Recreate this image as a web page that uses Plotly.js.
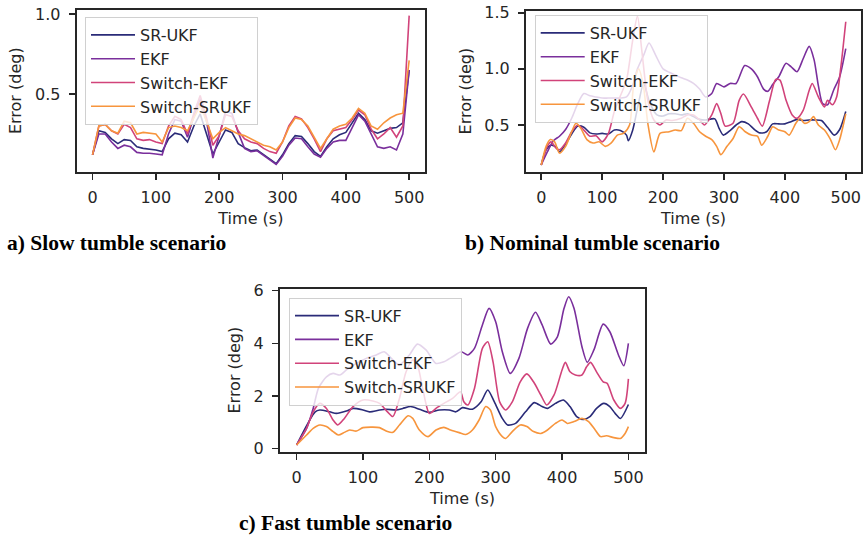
<!DOCTYPE html>
<html><head><meta charset="utf-8">
<script src="https://cdn.plot.ly/plotly-3.0.1.min.js"></script>
<style>html,body{margin:0;padding:0;background:#fff;} #chart{width:864px;height:537px;}</style>
</head><body><div id="chart"></div>
<script>
const seriesNames = ['SR-UKF', 'EKF', 'Switch-EKF', 'Switch-SRUKF'];
const seriesColors = ['#2a2b78', '#7a2f9c', '#d1437a', '#f7953d'];
const captions = ['a) Slow tumble scenario', 'b) Nominal tumble scenario', 'c) Fast tumble scenario'];
const xTitle = 'Time (s)';
const yTitle = 'Error (deg)';

// ---- a) Slow tumble ----
const tA = [0,10,20,30,40,50,60,70,80,90,100,110,120,130,140,150,160,170,180,190,200,210,220,230,240,250,260,270,280,290,300,310,320,330,340,350,360,370,380,390,400,410,420,430,440,450,460,470,480,490,500];
const aSRUKF = [0.12,0.27,0.26,0.22,0.19,0.215,0.21,0.17,0.16,0.155,0.15,0.14,0.22,0.255,0.245,0.2,0.3,0.375,0.25,0.125,0.2,0.275,0.26,0.19,0.165,0.145,0.15,0.12,0.09,0.065,0.12,0.19,0.24,0.235,0.19,0.14,0.11,0.17,0.22,0.245,0.26,0.32,0.38,0.34,0.27,0.255,0.27,0.285,0.29,0.32,0.65];
const aEKF = [0.12,0.25,0.25,0.2,0.16,0.18,0.17,0.135,0.13,0.13,0.125,0.12,0.25,0.34,0.33,0.23,0.36,0.47,0.33,0.1,0.24,0.39,0.38,0.26,0.16,0.14,0.145,0.115,0.085,0.06,0.11,0.18,0.225,0.22,0.17,0.125,0.105,0.16,0.2,0.21,0.21,0.29,0.37,0.33,0.25,0.17,0.16,0.17,0.15,0.25,0.65];
const aSwitchEKF = [0.12,0.3,0.31,0.27,0.25,0.31,0.29,0.22,0.21,0.215,0.2,0.19,0.3,0.36,0.34,0.25,0.38,0.49,0.35,0.18,0.24,0.37,0.36,0.27,0.22,0.2,0.19,0.16,0.14,0.13,0.2,0.3,0.36,0.345,0.29,0.22,0.14,0.22,0.27,0.28,0.29,0.34,0.4,0.37,0.28,0.22,0.25,0.29,0.23,0.3,0.99];
const aSwitchSRUKF = [0.12,0.3,0.31,0.27,0.255,0.33,0.32,0.25,0.26,0.255,0.25,0.2,0.29,0.3,0.29,0.27,0.35,0.43,0.33,0.22,0.26,0.29,0.27,0.25,0.24,0.22,0.2,0.18,0.17,0.15,0.2,0.29,0.35,0.34,0.3,0.23,0.16,0.22,0.28,0.3,0.31,0.35,0.41,0.38,0.3,0.28,0.32,0.35,0.37,0.38,0.71];

// ---- b) Nominal tumble ----
const tB_SRUKF = [0,8,16,25,30,40,50,60,70,80,90,100,110,120,130,140,143,150,160,168,178,190,200,210,220,230,240,250,260,270,285,292,299,310,320,329,340,350,359,370,380,390,400,410,420,430,440,450,460,470,481,490,500];
const bSRUKF = [0.144,0.28,0.32,0.3,0.26,0.33,0.42,0.49,0.48,0.43,0.42,0.425,0.42,0.455,0.45,0.41,0.36,0.45,0.7,0.87,0.7,0.59,0.58,0.6,0.6,0.59,0.6,0.575,0.55,0.545,0.555,0.47,0.41,0.45,0.5,0.53,0.51,0.46,0.43,0.44,0.51,0.51,0.51,0.53,0.55,0.54,0.545,0.545,0.54,0.48,0.41,0.46,0.62];
const tB_EKF = [0,10,20,30,40,50,60,70,80,90,100,110,120,130,140,150,158,168,177,188,200,210,220,230,240,250,260,270,280,288,300,310,320,334,345,355,365,372,380,390,402,410,420,430,440,448,455,462,470,480,490,500];
const bEKF = [0.144,0.26,0.36,0.4,0.46,0.56,0.69,0.78,0.76,0.75,0.74,0.74,0.74,0.74,0.75,0.85,1.0,1.12,1.23,1.12,1.0,0.97,0.945,0.92,0.9,0.87,0.82,0.75,0.78,0.87,0.84,0.87,0.87,1.03,1.0,0.93,0.82,0.8,0.86,0.93,1.05,1.02,0.975,1.09,1.2,1.08,0.85,0.69,0.68,0.81,0.93,1.18];
const tB_SwitchEKF = [0,10,16,25,30,40,50,60,70,80,90,100,110,120,130,140,150,158,165,175,185,195,205,215,230,240,250,260,268,280,288,295,302,315,325,332,345,355,363,375,385,392,402,412,420,430,440,445,455,465,470,478,485,492,500];
const bSwitchEKF = [0.144,0.31,0.35,0.29,0.28,0.34,0.44,0.5,0.455,0.4,0.405,0.35,0.42,0.62,0.76,0.9,1.25,1.47,1.17,0.72,0.545,0.5,0.545,0.54,0.56,0.59,0.59,0.545,0.5,0.59,0.69,0.6,0.49,0.515,0.72,0.776,0.66,0.56,0.49,0.72,0.907,0.9,0.72,0.59,0.56,0.63,0.81,0.87,0.75,0.66,0.72,0.68,0.75,1.02,1.42];
const tB_SwitchSRUKF = [0,8,15,22,30,40,50,57,65,75,85,95,105,115,125,135,145,152,160,168,175,185,195,210,220,230,240,250,260,270,280,288,295,305,315,325,335,345,355,362,372,380,390,400,407,418,425,432,440,447,455,465,475,483,490,500];
const bSwitchSRUKF = [0.144,0.31,0.37,0.35,0.25,0.31,0.44,0.515,0.47,0.37,0.34,0.35,0.31,0.34,0.41,0.425,0.5,0.87,1.0,0.84,0.515,0.26,0.425,0.44,0.455,0.45,0.56,0.515,0.44,0.4,0.37,0.31,0.235,0.31,0.38,0.485,0.44,0.41,0.4,0.32,0.4,0.485,0.455,0.44,0.41,0.515,0.56,0.515,0.53,0.575,0.5,0.455,0.37,0.28,0.37,0.6];

// ---- c) Fast tumble ----
const tC_SRUKF = [0,28,35,50,60,75,85,100,110,125,135,150,160,172,185,200,215,230,240,250,265,278,288,298,310,318,330,345,358,370,378,390,402,412,422,432,442,452,463,472,480,488,500];
const cSRUKF = [0.14,1.4,1.47,1.4,1.34,1.43,1.53,1.47,1.4,1.47,1.5,1.47,1.53,1.6,1.5,1.38,1.47,1.47,1.4,1.56,1.5,1.78,2.23,1.78,1.15,0.9,0.96,1.4,1.75,1.6,1.53,1.72,1.85,1.6,1.22,1.11,1.22,1.53,1.72,1.6,1.34,1.15,1.68];
const tC_EKF = [0,15,25,33,45,55,65,75,90,105,120,132,145,155,170,182,195,210,222,235,248,258,268,280,290,300,310,322,335,348,360,370,383,393,403,410,418,430,438,448,462,472,485,493,500];
const cEKF = [0.14,0.77,1.53,2.3,2.73,2.86,2.8,2.99,3.24,3.43,3.56,3.68,3.37,3.18,3.56,3.97,3.75,3.24,3.3,3.49,3.68,3.56,3.81,4.7,5.33,4.82,3.68,2.86,3.43,4.57,5.18,4.7,3.97,4.25,5.33,5.77,5.33,3.87,3.28,3.75,4.73,4.44,3.56,3.15,4.0];
const tC_SwitchEKF = [0,15,25,35,45,55,62,72,85,100,115,125,137,145,155,165,175,182,190,200,210,222,235,247,252,258,268,280,288,296,306,315,325,337,347,357,368,377,388,400,405,412,420,430,437,443,452,462,468,478,488,495,500];
const cSwitchEKF = [0.14,0.77,1.4,1.72,1.53,1.09,0.9,1.15,1.6,1.85,1.81,1.72,1.4,1.22,1.91,2.92,3.37,3.18,2.29,1.34,1.53,1.72,1.91,2.16,1.78,1.66,2.29,3.81,4.06,3.3,1.78,1.47,1.78,2.54,2.84,2.54,2.04,1.66,2.04,2.99,3.28,2.92,2.8,2.8,3.11,3.28,2.92,2.54,2.48,1.85,1.53,1.72,2.65];
const tC_SwitchSRUKF = [0,15,25,35,45,55,63,72,80,90,100,115,125,137,145,155,168,175,185,198,210,222,232,245,255,265,275,285,292,300,310,315,325,337,347,357,368,378,390,400,408,418,430,440,450,458,467,478,488,495,500];
const cSwitchSRUKF = [0.14,0.52,0.77,0.9,0.84,0.65,0.52,0.62,0.71,0.67,0.8,0.82,0.8,0.65,0.62,0.9,1.25,1.15,0.71,0.46,0.71,0.81,0.71,0.61,0.54,0.71,1.09,1.6,1.47,0.84,0.46,0.39,0.65,0.9,0.84,0.65,0.58,0.71,0.96,1.09,0.96,1.03,1.15,1.03,0.71,0.46,0.49,0.42,0.39,0.58,0.84];

const panels = [
  {xa:'x', ya:'y', legend:'legend', shape:'linear',
   data:[[tA,aSRUKF],[tA,aEKF],[tA,aSwitchEKF],[tA,aSwitchSRUKF]]},
  {xa:'x2', ya:'y2', legend:'legend2', shape:'spline',
   data:[[tB_SRUKF,bSRUKF],[tB_EKF,bEKF],[tB_SwitchEKF,bSwitchEKF],[tB_SwitchSRUKF,bSwitchSRUKF]]},
  {xa:'x3', ya:'y3', legend:'legend3', shape:'spline',
   data:[[tC_SRUKF,cSRUKF],[tC_EKF,cEKF],[tC_SwitchEKF,cSwitchEKF],[tC_SwitchSRUKF,cSwitchSRUKF]]}
];

const traces = [];
panels.forEach(p => {
  p.data.forEach((d, i) => {
    traces.push({
      x: d[0], y: d[1], type: 'scatter', mode: 'lines',
      name: seriesNames[i], xaxis: p.xa, yaxis: p.ya, legend: p.legend,
      line: {color: seriesColors[i], width: 1.6, shape: p.shape, smoothing: 0.7},
      hoverinfo: 'skip'
    });
  });
});

const W = 864, H = 537;
const px = v => v / W;
const py = v => 1 - v / H;
const ink = '#262626';
const font = {family: 'DejaVu Sans', size: 16, color: ink};
const capFont = {family: 'Liberation Serif', size: 21.5, color: '#000'};

function xAxis(domain, anchor) {
  return {domain: domain, anchor: anchor, range: [-25, 525], tickvals: [0,100,200,300,400,500],
    ticks: 'outside', ticklen: 6, tickwidth: 1.5, tickcolor: ink, ticklabelstandoff: 4,
    showline: true, mirror: true, linewidth: 2, linecolor: ink, showgrid: false, zeroline: false,
    tickfont: font, title: {text: xTitle, font: font, standoff: 7}};
}
function yAxis(domain, anchor, range, tv, fmt) {
  return {domain: domain, anchor: anchor, range: range, tickvals: tv, tickformat: fmt,
    ticks: 'outside', ticklen: 6, tickwidth: 1.5, tickcolor: ink, ticklabelstandoff: 5,
    showline: true, mirror: true, linewidth: 2, linecolor: ink, showgrid: false, zeroline: false,
    tickfont: font, title: {text: yTitle, font: font, standoff: 9}};
}
function legend(x, y) {
  return {x: x, y: y, xanchor: 'left', yanchor: 'top', bgcolor: 'rgba(255,255,255,0.8)',
    bordercolor: '#d0d0d0', borderwidth: 1, font: {family: 'DejaVu Sans', size: 16, color: ink},
    itemwidth: 44, tracegroupgap: 0};
}

const layout = {
  width: W, height: H, margin: {l: 0, r: 0, t: 0, b: 0},
  paper_bgcolor: '#fff', plot_bgcolor: '#fff', showlegend: true,
  xaxis: xAxis([px(76.7), px(425)], 'y'),
  yaxis: yAxis([py(172), py(9.5)], 'x', [0.0125, 1.028], [0.5, 1.0], '.1f'),
  xaxis2: xAxis([px(526), px(861)], 'y2'),
  yaxis2: yAxis([py(171.7), py(10.5)], 'x2', [0.084, 1.52], [0.5, 1.0, 1.5], '.1f'),
  xaxis3: xAxis([px(280), px(645)], 'y3'),
  yaxis3: yAxis([py(451.7), py(288.6)], 'x3', [-0.114, 6.08], [0, 2, 4, 6], 'd'),
  legend: legend(px(85), py(17)),
  legend2: legend(px(534.7), py(15)),
  legend3: legend(px(289), py(297.7)),
  annotations: [
    {text: '<b>' + captions[0] + '</b>', xref: 'paper', yref: 'paper', x: px(5), y: py(243), xanchor: 'left', yanchor: 'middle', showarrow: false, font: capFont},
    {text: '<b>' + captions[1] + '</b>', xref: 'paper', yref: 'paper', x: px(463), y: py(243), xanchor: 'left', yanchor: 'middle', showarrow: false, font: capFont},
    {text: '<b>' + captions[2] + '</b>', xref: 'paper', yref: 'paper', x: px(237), y: py(523), xanchor: 'left', yanchor: 'middle', showarrow: false, font: capFont}
  ]
};

Plotly.newPlot('chart', traces, layout, {staticPlot: true, displayModeBar: false});
</script>
</body></html>
